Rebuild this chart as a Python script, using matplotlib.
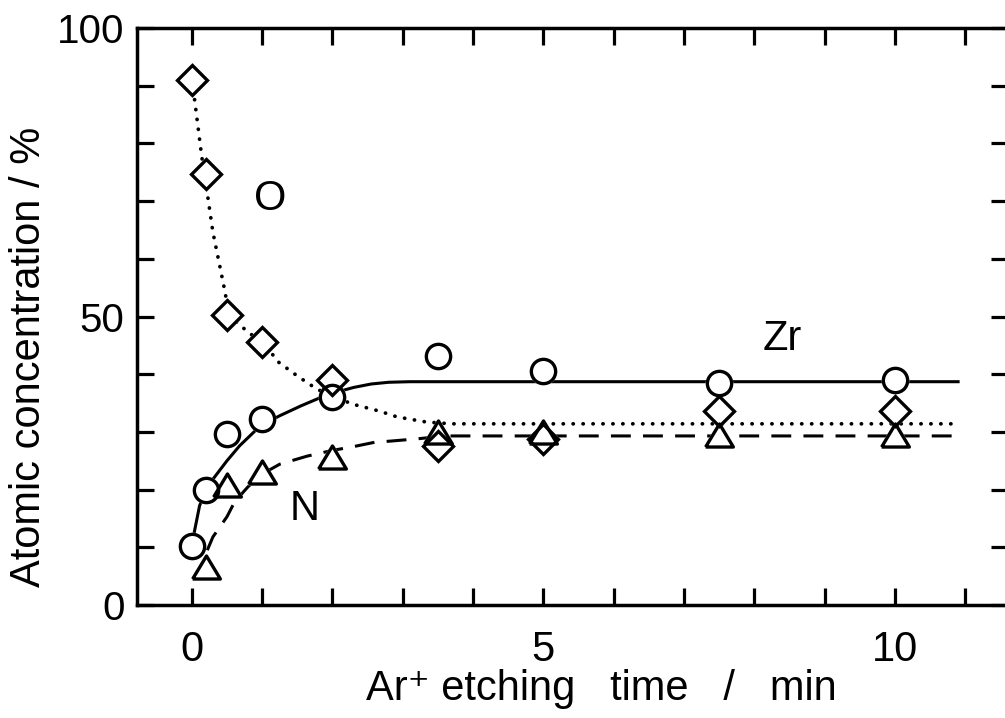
import matplotlib
matplotlib.use("Agg")
import matplotlib.pyplot as plt
from matplotlib.ticker import FixedLocator, MultipleLocator

plt.rcParams["font.family"] = ["Liberation Sans Narrow", "Liberation Sans",
                               "DejaVu Sans"]

# ---- measured compositions (atomic %) vs Ar+ etching time (min) ----
t_meas = [0.0, 0.2, 0.5, 1.0, 2.0, 3.5, 5.0, 7.5, 10.0]
zr_meas = [10.2, 20.0, 29.7, 32.3, 36.1, 43.2, 40.6, 38.4, 39.0]
o_meas = [91.0, 74.7, 50.3, 45.5, 39.0, 27.6, 28.8, 33.7, 33.7]
t_n = [0.2, 0.5, 1.0, 2.0, 3.5, 5.0, 7.5, 10.0]
n_meas = [6.6, 20.8, 23.0, 25.6, 30.0, 30.0, 29.5, 29.5]

# ---- hand-drawn guide curves ----
zr_curve_t = [0.0, 0.11, 0.2, 0.30, 0.5, 0.68, 0.97, 1.25, 1.55, 1.82, 2.06,
              2.3, 2.55, 2.8, 3.1, 10.9]
zr_curve = [10.5, 17.2, 19.9, 21.8, 25.0, 27.6, 31.0, 32.8, 34.5, 35.9, 36.9,
            37.7, 38.3, 38.6, 38.7, 38.7]

o_curve_t = [0.0, 0.04, 0.14, 0.2, 0.3, 0.47, 0.53, 0.83, 1.04, 1.21, 1.5,
             1.78, 2.0, 2.29, 2.67, 2.92, 3.34, 3.7, 10.9]
o_curve = [91.0, 87.5, 77.8, 73.0, 64.6, 54.4, 50.1, 47.0, 45.4, 42.3, 39.7,
           37.4, 36.2, 34.8, 33.6, 32.6, 31.7, 31.4, 31.4]

n_curve_t = [0.22, 0.30, 0.50, 0.61, 0.80, 1.0, 1.25, 1.64, 2.0, 2.28, 2.6,
             2.82, 3.21, 3.6, 10.9]
n_curve = [9.5, 11.8, 15.3, 17.9, 20.5, 22.7, 24.4, 25.8, 26.8, 27.4, 28.2,
           28.4, 28.8, 29.3, 29.3]

fig = plt.figure(figsize=(10.05, 7.18), dpi=100)
ax = fig.add_axes([137 / 1005, 113 / 718, 871 / 1005, 577 / 718])

ax.plot(zr_curve_t, zr_curve, color="black", lw=2.2, zorder=2)
ax.plot(o_curve_t, o_curve, color="black", lw=2.7,
        linestyle=(0, (0.05, 2.6)), dash_capstyle="round", zorder=2)
ax.plot(n_curve_t, n_curve, color="black", lw=2.2,
        linestyle=(0, (6.5, 4.0)), zorder=2)

tri = [(-1, -0.83), (1, -0.83), (0, 0.83), (-1, -0.83)]
series = [
    (t_meas, o_meas, "D", 15.5),
    (t_n, n_meas, tri, 20),
    (t_meas, zr_meas, "o", 17.5),
]
# white-filled pass hides the guide lines, outline pass keeps overlaps visible
for x, y, m, ms in series:
    ax.plot(x, y, ls="none", marker=m, ms=ms, mfc="white", mec="white",
            mew=2.4, zorder=3)
for x, y, m, ms in series:
    ax.plot(x, y, ls="none", marker=m, ms=ms, mfc="none", mec="black",
            mew=2.4, zorder=4)

ax.text(1.11, 70.4, "O", fontsize=30, ha="center", va="center")
ax.text(1.61, 16.6, "N", fontsize=30, ha="center", va="center")
ax.text(8.4, 46.1, "Zr", fontsize=30, ha="center", va="center")

ax.set_xlim(-0.78, 11.61)
ax.set_ylim(0, 100)
ax.xaxis.set_major_locator(FixedLocator([0, 5, 10]))
ax.xaxis.set_minor_locator(MultipleLocator(1))
ax.yaxis.set_major_locator(FixedLocator([0, 50, 100]))
ax.yaxis.set_minor_locator(MultipleLocator(10))
ax.tick_params(which="both", direction="in", top=True, right=True,
               length=12, width=2.3)
ax.tick_params(axis="x", which="major", pad=18, labelsize=30)
ax.tick_params(axis="y", which="major", pad=9, labelsize=29)
for sp in ax.spines.values():
    sp.set_linewidth(2.5)

ax.set_xlabel("Ar\u207a etching   time   /   min", fontsize=30, va="center")
ax.xaxis.set_label_coords(0.533, -0.145)
ax.set_ylabel("Atomic concentration / %", fontsize=30, va="center")
ax.yaxis.set_label_coords(-0.124, 0.43)

fig.savefig("out.png", dpi=100)
